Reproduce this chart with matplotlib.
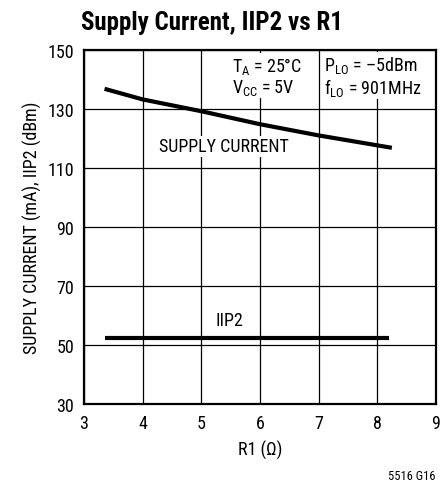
import matplotlib
matplotlib.use("Agg")
import matplotlib.pyplot as plt

plt.rcParams['font.family'] = ['Roboto Condensed', 'DejaVu Sans']
plt.rcParams['mathtext.fontset'] = 'custom'
plt.rcParams['mathtext.rm'] = 'Roboto Condensed'

# supply current (mA) vs R1
r1_supply = [3.35, 4.0, 5.0, 6.0, 7.0, 8.25]
supply_ma = [136.8, 133.2, 129.2, 124.8, 121.0, 116.8]

# IIP2 (dBm) vs R1
r1_iip2 = [3.35, 4.0, 5.0, 6.0, 7.0, 8.2]
iip2_dbm = [52.5, 52.5, 52.5, 52.5, 52.5, 52.5]

x_ticks = [3, 4, 5, 6, 7, 8, 9]
y_ticks = [30, 50, 70, 90, 110, 130, 150]

fig = plt.figure(figsize=(4.47, 4.89), dpi=100)
ax = fig.add_axes([0.188, 0.172, 0.787, 0.724])

ax.plot(r1_supply, supply_ma, color="black", lw=3, solid_capstyle="butt", zorder=3)
ax.plot(r1_iip2, iip2_dbm, color="black", lw=3, solid_capstyle="butt", zorder=3)

ax.set_xlim(3, 9)
ax.set_ylim(30, 150)
ax.set_xticks(x_ticks)
ax.set_yticks(y_ticks)
ax.tick_params(length=0, labelsize=13, pad=7)
ax.grid(True, color="black", lw=0.9)
ax.set_axisbelow(True)
for s in ax.spines.values():
    s.set_linewidth(1.6)

ax.set_xlabel("R1 (\u03a9)", fontsize=13, labelpad=6)
ax.set_ylabel("SUPPLY CURRENT (mA), IIP2 (dBm)", fontsize=13, labelpad=4)
fig.text(0.475, 0.952, "Supply Current, IIP2 vs R1", ha="center", va="center",
         fontsize=18, fontweight="bold")

box = dict(facecolor="white", edgecolor="none", pad=1)
ax.text(5.52, 141.2, "T$_\\mathregular{A}$ = 25\u00b0C\nV$_\\mathregular{CC}$ = 5V",
        fontsize=13, va="center", linespacing=1.05, bbox=box)
ax.text(7.1, 141.2, "P$_\\mathregular{LO}$ = \u20135dBm\nf$_\\mathregular{LO}$ = 901MHz",
        fontsize=13, va="center", linespacing=1.05, bbox=box)
ax.text(4.28, 117.3, "SUPPLY CURRENT", fontsize=13, va="center", bbox=box)
ax.text(5.25, 58.5, "IIP2", fontsize=13, va="center", bbox=box)

fig.text(0.975, 0.012, "5516 G16", ha="right", va="bottom", fontsize=9)

fig.savefig("out.png", dpi=100)
